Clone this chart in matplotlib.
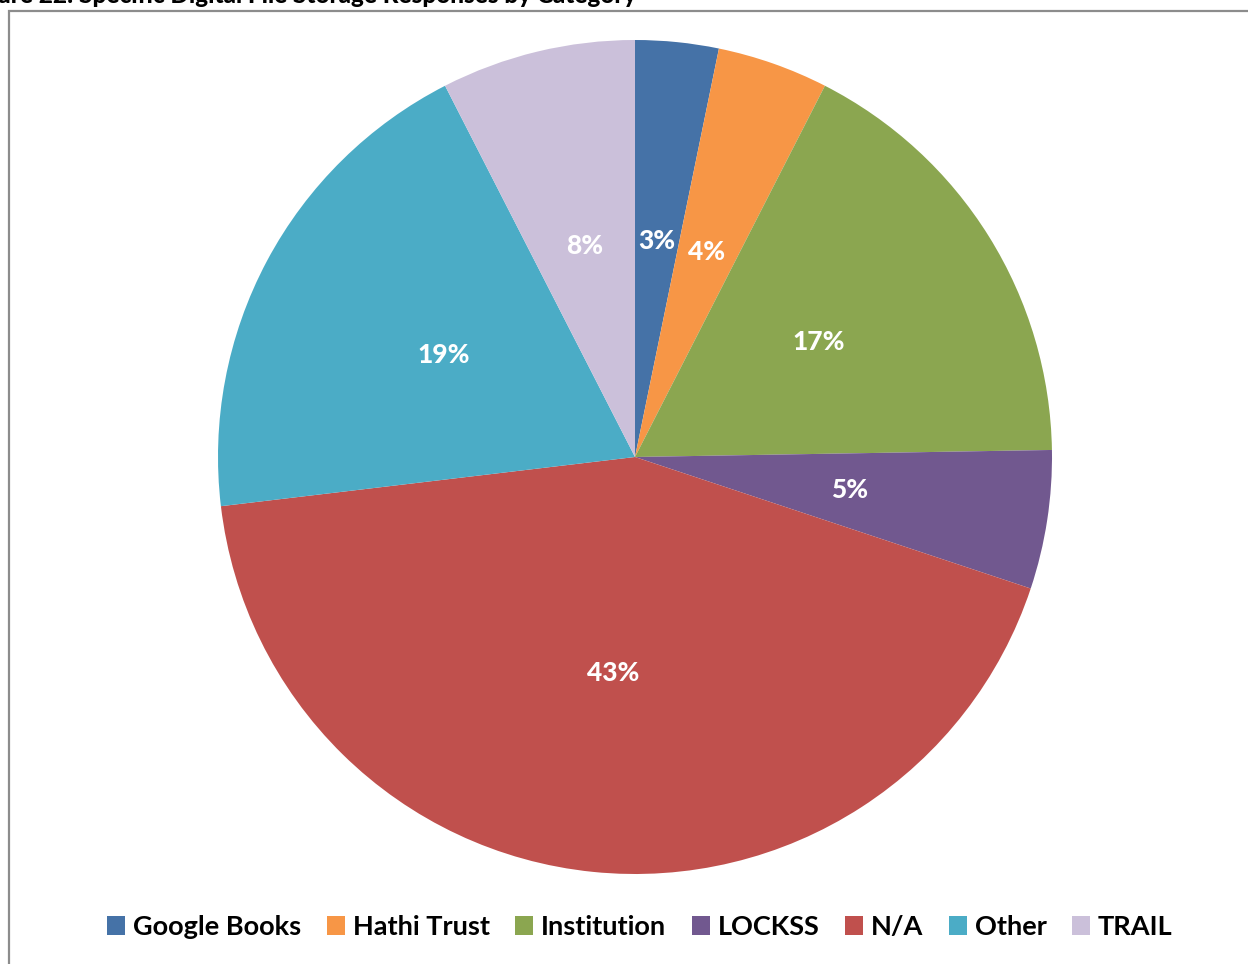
import matplotlib
matplotlib.use("Agg")
import matplotlib.pyplot as plt
from matplotlib.patches import Rectangle, Patch

categories = ["Google Books", "Hathi Trust", "Institution", "LOCKSS", "N/A", "Other", "TRAIL"]
counts = [3, 4, 16, 5, 40, 18, 7]
colors = ["#4572A7", "#F79646", "#8BA650", "#71588F", "#C0504D", "#4BACC6", "#CBC0DA"]
title = "Figure 22: Specific Digital File Storage Responses by Category"

plt.rcParams['font.family'] = ['Lato', 'DejaVu Sans']

W, H = 1248, 964
fig = plt.figure(figsize=(W/100, H/100), dpi=100)

cx, cy, R = 635, 457, 417
ax = fig.add_axes([(cx - R)/W, (H - cy - R)/H, 2*R/W, 2*R/H])
wedges, texts, autotexts = ax.pie(
    counts, colors=colors, startangle=90, counterclock=False,
    autopct=lambda p: f"{p:.0f}%", pctdistance=0.52,
    wedgeprops=dict(linewidth=0), radius=1)
for t in autotexts:
    t.set_color("white")
    t.set_fontweight("black")
    t.set_fontsize(19)
ax.set_xlim(-1, 1)
ax.set_ylim(-1, 1)
ax.set_aspect("equal")
ax.axis("off")

# frame
fig.patches.append(Rectangle((9/W, -0.1), 1.2, 1 - 11/H + 0.1, transform=fig.transFigure,
                             fill=False, edgecolor="#8c8c8c", linewidth=1.6))

fig.text(636/W, 1 - 3/H, title, ha="right", va="baseline", fontsize=17.5, fontweight="black")

handles = [Patch(facecolor=c, edgecolor="none") for c in colors]
leg = fig.legend(handles, categories, loc="center", bbox_to_anchor=(640/W, 1 - 927/H),
                 ncol=7, frameon=False, prop=dict(size=19.5, weight="bold"),
                 handlelength=0.65, handleheight=0.65, handletextpad=0.3, columnspacing=0.95)

fig.savefig("out.png", dpi=100)
